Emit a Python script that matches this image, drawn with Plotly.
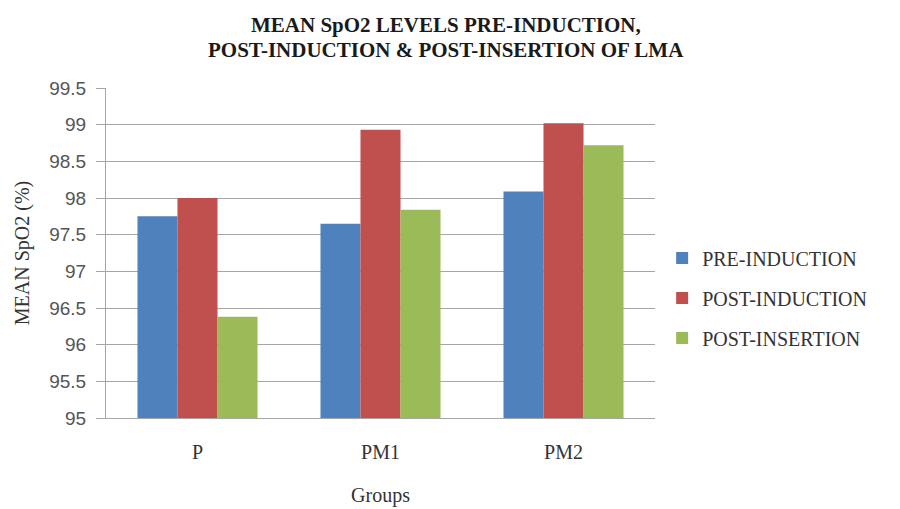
import plotly.graph_objects as go

groups = ["P", "PM1", "PM2"]
pre_induction = [97.75, 97.65, 98.09]
post_induction = [98.0, 98.93, 99.02]
post_insertion = [96.38, 97.84, 98.72]
series_names = ["PRE-INDUCTION", "POST-INDUCTION", "POST-INSERTION"]
colors = ["#4f81bd", "#c0504d", "#9bbb59"]
y_ticks = [95, 95.5, 96, 96.5, 97, 97.5, 98, 98.5, 99, 99.5]
title_lines = ["MEAN SpO2 LEVELS PRE-INDUCTION,", "POST-INDUCTION &amp; POST-INSERTION OF LMA"]

serif = "Liberation Serif, DejaVu Serif, serif"
sans = "Liberation Sans, Arial, sans-serif"
grid = "#a6a6a6"

fig = go.Figure()
for name, vals, c in zip(series_names, [pre_induction, post_induction, post_insertion], colors):
    fig.add_trace(go.Bar(x=groups, y=vals, name=name, legendgroup=name,
                         marker=dict(color=c, line=dict(width=0))))

for txt, yy in zip(title_lines, [1.19, 1.115]):
    fig.add_annotation(text=f"<b>{txt}</b>", x=0.62, y=yy, xref="paper", yref="paper",
                       xanchor="center", yanchor="middle", showarrow=False,
                       font=dict(family=serif, size=21, color="#1a1a1a"))

fig.update_layout(
    width=900, height=509,
    paper_bgcolor="white", plot_bgcolor="white",
    margin=dict(l=98, r=253, t=80, b=99),
    barmode="group", bargap=0.344, bargroupgap=0,
    xaxis=dict(
        title=dict(text="Groups", font=dict(family=serif, size=20, color="#333333"), standoff=25),
        tickfont=dict(family=serif, size=20, color="#333333"),
        showline=True, linecolor=grid, linewidth=1,
        ticks="", showgrid=False, ticklabelstandoff=16,
    ),
    yaxis=dict(
        title=dict(text="MEAN SpO2 (%)", font=dict(family=serif, size=20, color="#333333"), standoff=14),
        range=[95, 99.5], tickvals=y_ticks, ticktext=[f"{v:g}" for v in y_ticks],
        tickfont=dict(family=sans, size=19, color="#555555"),
        showgrid=True, gridcolor=grid, gridwidth=1,
        showline=True, linecolor=grid, linewidth=1,
        ticks="outside", ticklen=9, tickcolor=grid, ticklabelstandoff=6,
        zeroline=False,
    ),
    legend=dict(
        x=1.013, xref="paper", xanchor="left", y=0.364, yanchor="middle",
        font=dict(family=serif, size=20, color="#333333"),
        traceorder="grouped", tracegroupgap=11,
    ),
)

fig.write_html("out.html")
